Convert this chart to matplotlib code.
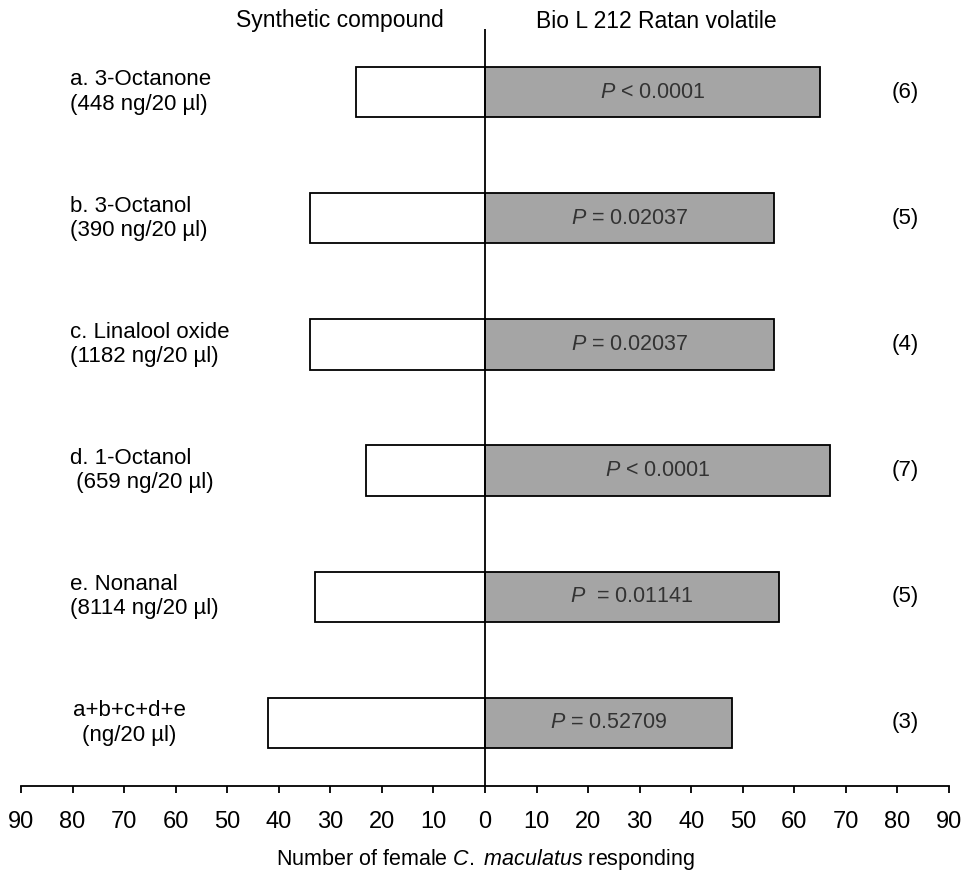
import numpy as np
import matplotlib.pyplot as plt

# --- data ---
compounds = ["a. 3-Octanone\n(448 ng/20 µl)",
             "b. 3-Octanol\n(390 ng/20 µl)",
             "c. Linalool oxide\n(1182 ng/20 µl)",
             "d. 1-Octanol\n (659 ng/20 µl)",
             "e. Nonanal\n(8114 ng/20 µl)",
             "a+b+c+d+e\n(ng/20 µl)"]
synthetic = [25, 34, 34, 23, 33, 42]
bio_volatile = [65, 56, 56, 67, 57, 48]
p_labels = [r"$\mathit{P}$ < 0.0001",
            r"$\mathit{P}$ = 0.02037",
            r"$\mathit{P}$ = 0.02037",
            r"$\mathit{P}$ < 0.0001",
            r"$\mathit{P}$  = 0.01141",
            r"$\mathit{P}$ = 0.52709"]
n_reps = ["(6)", "(5)", "(4)", "(7)", "(5)", "(3)"]
ticks = np.arange(-90, 91, 10)

plt.rcParams['font.family'] = ['Liberation Sans', 'DejaVu Sans']
plt.rcParams['mathtext.fontset'] = 'custom'
plt.rcParams['mathtext.rm'] = 'Liberation Sans'
plt.rcParams['mathtext.it'] = 'Liberation Sans:italic'

fig = plt.figure(figsize=(9.64, 8.75), dpi=100)
ax = fig.add_axes([21 / 964, 89 / 875, 928 / 964, 757 / 875])

y = np.arange(len(compounds))
ax.barh(y, [-v for v in synthetic], height=0.4, color='white',
        edgecolor='black', linewidth=1.3)
ax.barh(y, bio_volatile, height=0.4, color='#a5a5a5',
        edgecolor='black', linewidth=1.3)
ax.axvline(0, color='black', linewidth=1.3)

for i in range(len(compounds)):
    align = 'center' if i == len(compounds) - 1 else 'left'
    xpos = -69 if align == 'center' else -80.5
    ax.text(xpos, y[i], compounds[i], ha=align, va='center',
            multialignment=align, fontsize=16, linespacing=1.2)
    ax.text(bio_volatile[i] / 2, y[i], p_labels[i], ha='center', va='center',
            fontsize=15.5, color='#333333')
    ax.text(81.5, y[i], n_reps[i], ha='center', va='center', fontsize=16)

ax.set_xlim(-90, 90)
ax.set_ylim(len(compounds) - 0.5, -0.5)
ax.set_xticks(ticks)
ax.set_xticklabels([str(abs(t)) for t in ticks], fontsize=17)
ax.tick_params(axis='x', length=5, width=1.3, pad=13)
ax.set_yticks([])
for side in ['top', 'left', 'right']:
    ax.spines[side].set_visible(False)
ax.spines['bottom'].set_linewidth(1.3)

ax.set_xlabel(r"Number of female $\mathit{C.}$ $\mathit{maculatus}$ responding",
              fontsize=15.5, labelpad=10)

fig.text(340 / 964, 1 - 21 / 875, "Synthetic compound", ha='center',
         va='center', fontsize=16.5)
fig.text(656 / 964, 1 - 21 / 875, "Bio L 212 Ratan volatile", ha='center',
         va='center', fontsize=16.5)

fig.savefig("out.png", dpi=100)
